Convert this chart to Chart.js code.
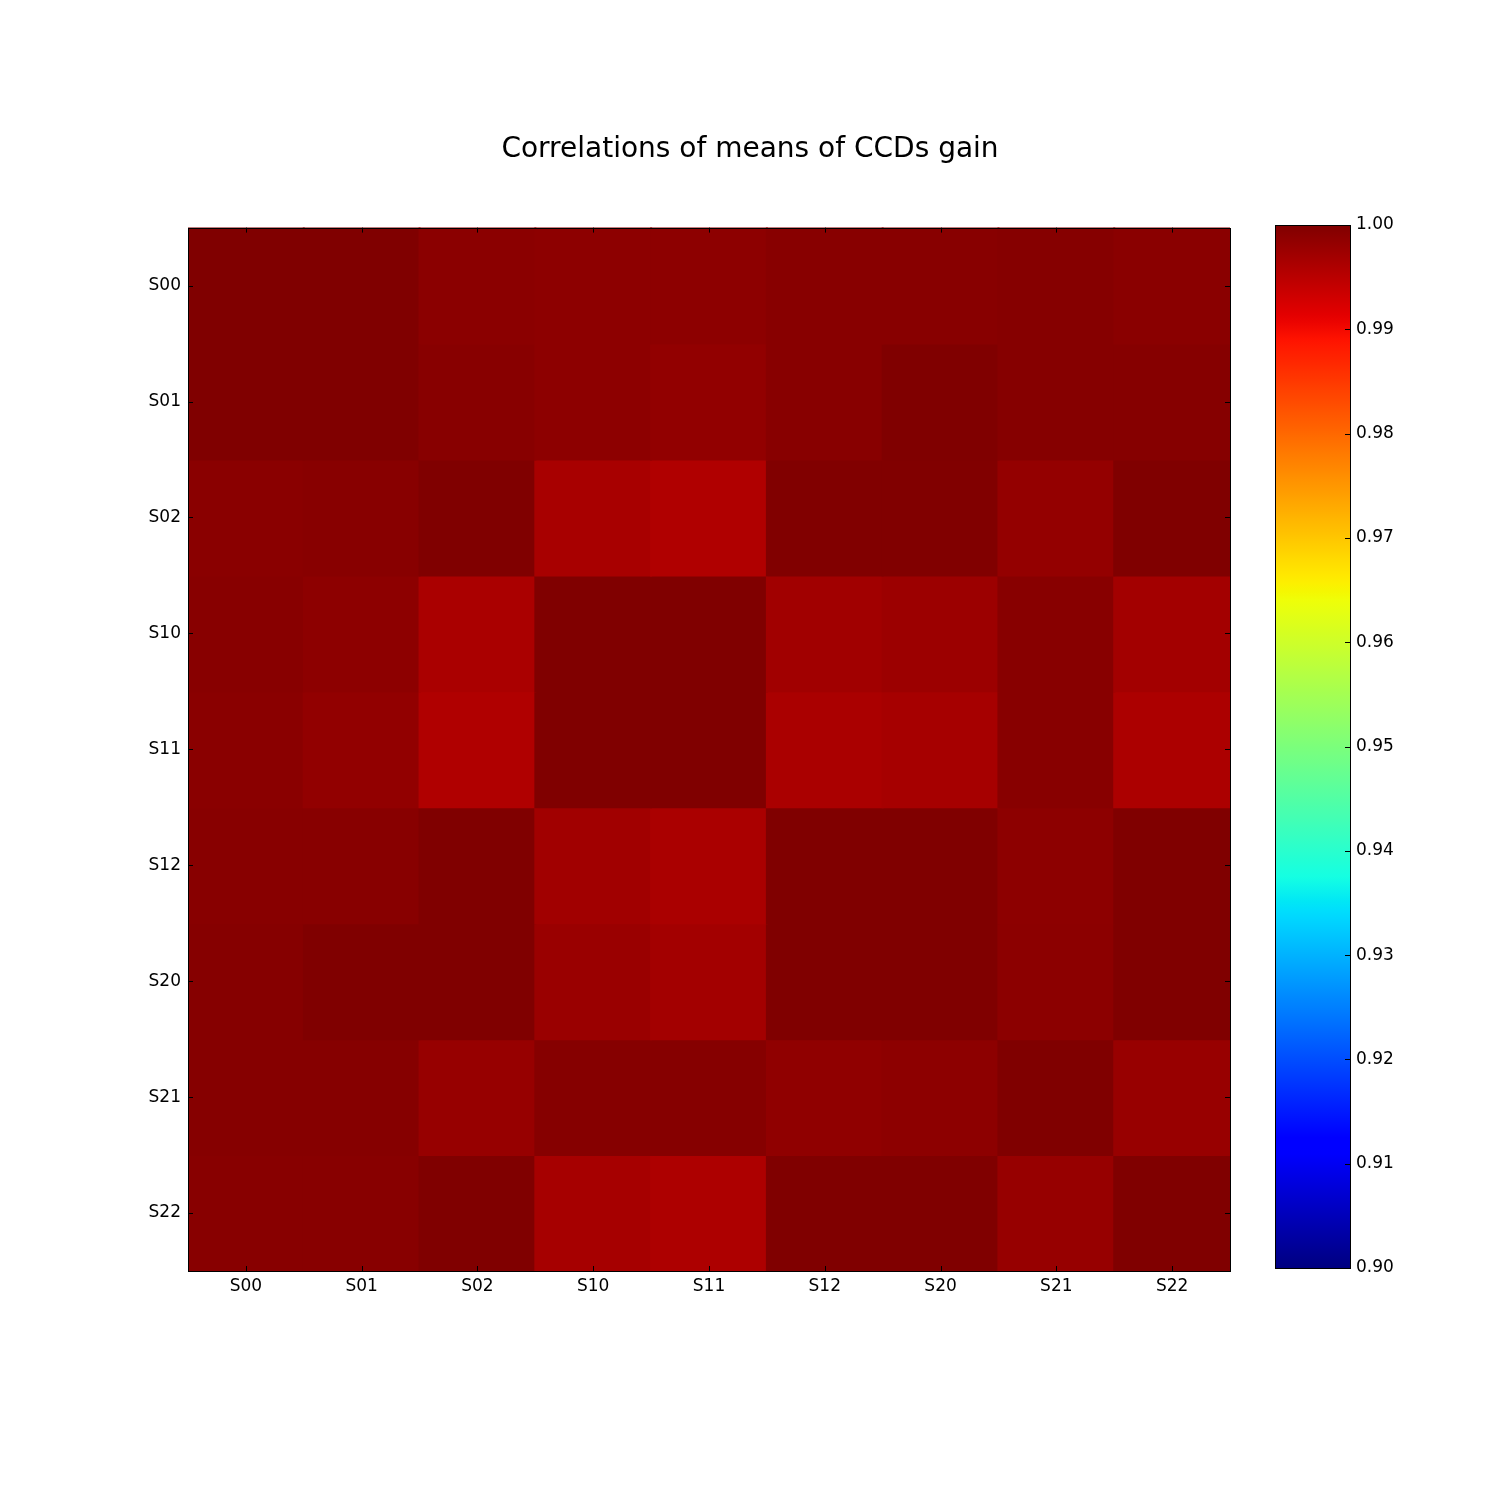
<!DOCTYPE html>
<html>
<head>
<meta charset="utf-8">
<script src="https://cdn.jsdelivr.net/npm/chart.js@4.4.1/dist/chart.umd.min.js"></script>
<style>
  body { margin: 0; background: #fff; }
  #wrap { position: relative; width: 1500px; height: 1500px; }
  canvas { position: absolute; top: 0; }
</style>
</head>
<body>
<div id="wrap">
  <canvas id="heat" width="1500" height="1500" style="left:0"></canvas>
  <canvas id="cbar" width="300" height="1500" style="left:1200px"></canvas>
</div>
<script>
var ccds = ["S00", "S01", "S02", "S10", "S11", "S12", "S20", "S21", "S22"];

// one row of the correlation matrix each
var rowS00 = [1.0000, 1.0000, 0.9990, 0.9988, 0.9988, 0.9993, 0.9993, 0.9994, 0.9991];
var rowS01 = [1.0000, 1.0000, 0.9993, 0.9988, 0.9984, 0.9993, 1.0000, 0.9994, 0.9994];
var rowS02 = [0.9991, 0.9993, 1.0000, 0.9965, 0.9958, 0.9999, 0.9999, 0.9982, 1.0000];
var rowS10 = [0.9993, 0.9988, 0.9963, 1.0000, 1.0000, 0.9971, 0.9975, 0.9993, 0.9969];
var rowS11 = [0.9991, 0.9984, 0.9958, 1.0000, 1.0000, 0.9963, 0.9967, 0.9993, 0.9962];
var rowS12 = [0.9993, 0.9993, 1.0000, 0.9971, 0.9963, 1.0000, 1.0000, 0.9988, 1.0000];
var rowS20 = [0.9994, 1.0000, 1.0000, 0.9977, 0.9969, 1.0000, 1.0000, 0.9989, 1.0000];
var rowS21 = [0.9994, 0.9994, 0.9980, 0.9994, 0.9994, 0.9986, 0.9988, 1.0000, 0.9979];
var rowS22 = [0.9993, 0.9993, 1.0000, 0.9967, 0.9961, 1.0000, 1.0000, 0.9980, 1.0000];
var rows = [rowS00, rowS01, rowS02, rowS10, rowS11, rowS12, rowS20, rowS21, rowS22];

var vmin = 0.90;
var vmax = 1.00;
var cbarTicks = [0.90, 0.91, 0.92, 0.93, 0.94, 0.95, 0.96, 0.97, 0.98, 0.99, 1.00];

var font = "DejaVu Sans";

// matplotlib jet
var jetR = [[0, 0], [0.35, 0], [0.66, 1], [0.89, 1], [1, 0.5]];
var jetG = [[0, 0], [0.125, 0], [0.375, 1], [0.64, 1], [0.91, 0], [1, 0]];
var jetB = [[0, 0.5], [0.11, 1], [0.34, 1], [0.65, 0], [1, 0]];
function seg(pts, t) {
  for (var i = 1; i < pts.length; i++) {
    if (t <= pts[i][0]) {
      var a = pts[i - 1], b = pts[i];
      return a[1] + (b[1] - a[1]) * (t - a[0]) / (b[0] - a[0]);
    }
  }
  return pts[pts.length - 1][1];
}
function jet(t) {
  t = Math.max(0, Math.min(1, t));
  return "rgb(" + Math.round(seg(jetR, t) * 255) + "," + Math.round(seg(jetG, t) * 255) + "," + Math.round(seg(jetB, t) * 255) + ")";
}
function colorOf(v) { return jet((v - vmin) / (vmax - vmin)); }

// inward ticks + frame, like matplotlib
var frameTicks = {
  id: "frameTicks",
  afterDraw: function (chart) {
    var ctx = chart.ctx, a = chart.chartArea;
    var xs = chart.scales.x, ys = chart.scales.y;
    ctx.save();
    ctx.strokeStyle = "#000";
    ctx.lineWidth = 1;
    ctx.beginPath();
    xs.ticks.forEach(function (t, i) {
      var px = Math.round(xs.getPixelForTick(i)) + 0.5;
      ctx.moveTo(px, a.bottom); ctx.lineTo(px, a.bottom - 5);
      ctx.moveTo(px, a.top); ctx.lineTo(px, a.top + 5);
    });
    ys.ticks.forEach(function (t, i) {
      var py = Math.round(ys.getPixelForTick(i)) + 0.5;
      ctx.moveTo(a.left, py); ctx.lineTo(a.left + 5, py);
      ctx.moveTo(a.right, py); ctx.lineTo(a.right - 5, py);
    });
    ctx.stroke();
    ctx.strokeRect(Math.round(a.left) + 0.5, Math.round(a.top) + 0.5, Math.round(a.right - a.left), Math.round(a.bottom - a.top));
    ctx.restore();
  }
};

var datasets = rows.map(function (r, i) {
  return {
    label: ccds[i],
    data: r.map(function () { return 1; }),
    backgroundColor: r.map(colorOf),
    borderWidth: 0,
    inflateAmount: 1,
    barPercentage: 1,
    categoryPercentage: 1
  };
});

var heat = new Chart(document.getElementById("heat").getContext("2d"), {
  type: "bar",
  data: { labels: ccds, datasets: datasets },
  options: {
    responsive: false,
    animation: false,
    events: [],
    layout: { padding: { top: 100, left: 0, right: 0, bottom: 189 } },
    scales: {
      x: {
        stacked: true,
        grid: { display: false, drawTicks: false },
        border: { display: false },
        ticks: { color: "#000", font: { family: font, size: 17 }, padding: 5, maxRotation: 0 },
        afterFit: function (s) { s.height = 40; }
      },
      y: {
        stacked: true,
        reverse: true,
        min: 0,
        max: 9,
        grid: { display: false, drawTicks: false },
        border: { display: false },
        afterBuildTicks: function (s) {
          s.ticks = ccds.map(function (c, i) { return { value: i + 0.5 }; });
        },
        ticks: {
          color: "#000",
          font: { family: font, size: 17 },
          padding: 7,
          callback: function (v) { return ccds[Math.floor(v)]; }
        },
        afterFit: function (s) { s.width = 188; }
      },
      // empty right side so the title centres on the page
      yRight: {
        position: "right",
        display: true,
        grid: { display: false, drawTicks: false },
        border: { display: false },
        ticks: { display: false },
        afterFit: function (s) { s.width = 270; }
      }
    },
    plugins: {
      legend: { display: false },
      tooltip: { enabled: false },
      title: {
        display: true,
        text: "Correlations of means of CCDs gain",
        color: "#000",
        font: { family: font, size: 28, weight: "normal" },
        padding: { top: 33, bottom: 61 }
      }
    }
  },
  plugins: [frameTicks]
});

var cbarTicksPlugin = {
  id: "cbarTicks",
  afterDraw: function (chart) {
    var ctx = chart.ctx, a = chart.chartArea, ys = chart.scales.y;
    ctx.save();
    ctx.strokeStyle = "#000";
    ctx.lineWidth = 1;
    ctx.beginPath();
    ys.ticks.forEach(function (t, i) {
      var py = Math.round(ys.getPixelForTick(i)) + 0.5;
      ctx.moveTo(a.right, py); ctx.lineTo(a.right - 5, py);
    });
    ctx.stroke();
    ctx.strokeRect(Math.round(a.left) + 0.5, Math.round(a.top) + 0.5, Math.round(a.right - a.left), Math.round(a.bottom - a.top));
    ctx.restore();
  }
};

var cbar = new Chart(document.getElementById("cbar").getContext("2d"), {
  type: "bar",
  data: {
    labels: [""],
    datasets: [{
      data: [[vmin, vmax]],
      backgroundColor: function (c) {
        var a = c.chart.chartArea;
        if (!a) return "#800000";
        var g = c.chart.ctx.createLinearGradient(0, a.bottom, 0, a.top);
        for (var i = 0; i <= 128; i++) g.addColorStop(i / 128, jet(i / 128));
        return g;
      },
      borderWidth: 0,
      barPercentage: 1,
      categoryPercentage: 1
    }]
  },
  options: {
    responsive: false,
    animation: false,
    events: [],
    layout: { padding: { top: 225, left: 75, right: 100, bottom: 232 } },
    scales: {
      x: { display: false },
      y: {
        position: "right",
        min: vmin,
        max: vmax,
        grid: { display: false, drawTicks: false },
        border: { display: false },
        afterBuildTicks: function (s) {
          s.ticks = cbarTicks.map(function (v) { return { value: v }; });
        },
        ticks: {
          color: "#000",
          font: { family: font, size: 17 },
          padding: 6,
          callback: function (v) { return Number(v).toFixed(2); }
        },
        afterFit: function (s) { s.width = 50; }
      }
    },
    plugins: { legend: { display: false }, tooltip: { enabled: false } }
  },
  plugins: [cbarTicksPlugin]
});
</script>
</body>
</html>
